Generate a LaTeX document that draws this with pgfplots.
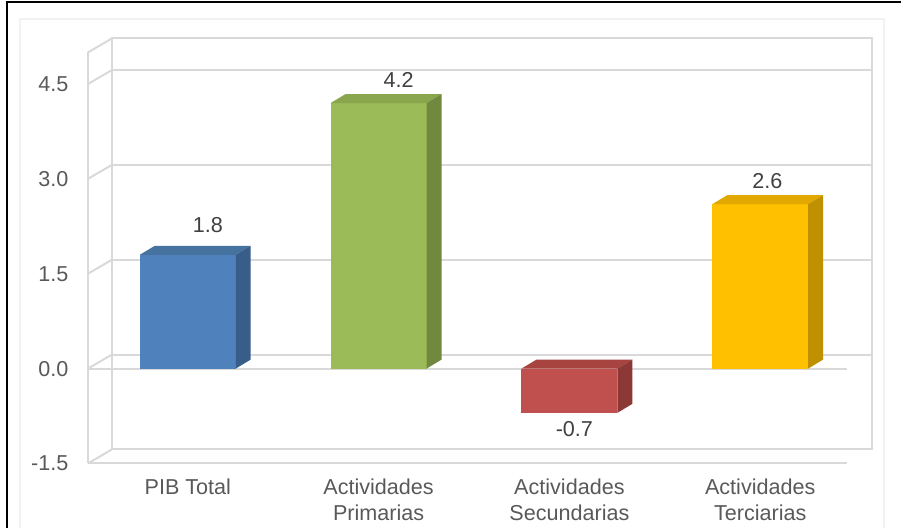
\documentclass[border=0pt]{standalone}
\usepackage{pgfplots}
\pgfplotsset{compat=1.18}
\usepackage{fontspec}
\setmainfont{Liberation Sans}
\definecolor{gridc}{HTML}{D9D9D9}
\definecolor{txt}{HTML}{595959}
\definecolor{val}{HTML}{404040}
\definecolor{bF}{HTML}{4F81BD}\definecolor{bT}{HTML}{46729F}\definecolor{bS}{HTML}{385D8A}
\definecolor{gF}{HTML}{9BBB59}\definecolor{gT}{HTML}{89A64D}\definecolor{gS}{HTML}{71893F}
\definecolor{rF}{HTML}{C0504D}\definecolor{rT}{HTML}{A84440}\definecolor{rS}{HTML}{8C3836}
\definecolor{yF}{HTML}{FFC000}\definecolor{yT}{HTML}{E0A800}\definecolor{yS}{HTML}{BF9000}
\begin{document}
\fontsize{10.8pt}{13pt}\selectfont
\begin{tikzpicture}
\begin{axis}[
  x=95.5pt, y=31.65pt,
  xmin=-0.5236, xmax=3.455, ymin=-1.5, ymax=5.0,
  clip=false,
  axis line style={draw=none},
  major tick length=0pt,
  xtick={0,1,2,3},
  xticklabels={PIB Total, Actividades\\Primarias, Actividades\\Secundarias, Actividades\\Terciarias},
  xticklabel style={align=center, font=\fontsize{10.8pt}{13pt}\selectfont, text=txt, yshift=-4pt},
  ytick={-1.5,0,1.5,3,4.5},
  yticklabels={-1.5,0.0,1.5,3.0,4.5},
  yticklabel style={font=\fontsize{10.8pt}{13pt}\selectfont, text=txt, xshift=-6pt},
]
% picture bounds and frames
\path (axis cs:-0.9843,5.829) rectangle (axis cs:3.738,-2.528);
\draw[black, line width=1pt] (axis cs:-0.9476,-2.528) -- (axis cs:-0.9476,5.798) -- (axis cs:3.738,5.798);
\draw[black!5, line width=0.6pt] (axis cs:-0.8796,-2.528) -- (axis cs:-0.8796,5.529) -- (axis cs:3.649,5.529) -- (axis cs:3.649,-2.528);
% walls
\draw[gridc, line width=1pt] (axis cs:-0.3979,-1.279) -- (axis cs:-0.3979,5.221) -- (axis cs:3.586,5.221) -- (axis cs:3.586,-1.279) -- cycle;
\draw[gridc, line width=1pt] (axis cs:-0.5236,-1.5) -- (axis cs:-0.5236,5.0);
\draw[gridc, line width=1pt] (axis cs:-0.5236,-1.5) -- (axis cs:-0.3979,-1.279);
\draw[gridc, line width=1pt] (axis cs:-0.5236,0) -- (axis cs:-0.3979,0.221);
\draw[gridc, line width=1pt] (axis cs:-0.5236,1.5) -- (axis cs:-0.3979,1.721);
\draw[gridc, line width=1pt] (axis cs:-0.5236,3) -- (axis cs:-0.3979,3.221);
\draw[gridc, line width=1pt] (axis cs:-0.5236,4.5) -- (axis cs:-0.3979,4.721);
\draw[gridc, line width=1pt] (axis cs:-0.5236,5.0) -- (axis cs:-0.3979,5.221);
\draw[gridc, line width=1pt] (axis cs:-0.3979,0.221) -- (axis cs:3.586,0.221);
\draw[gridc, line width=1pt] (axis cs:-0.3979,1.721) -- (axis cs:3.586,1.721);
\draw[gridc, line width=1pt] (axis cs:-0.3979,3.221) -- (axis cs:3.586,3.221);
\draw[gridc, line width=1pt] (axis cs:-0.3979,4.721) -- (axis cs:3.586,4.721);
\draw[gridc, line width=1pt] (axis cs:-0.5236,-1.5) -- (axis cs:3.455,-1.5);
\draw[gridc, line width=1pt] (axis cs:-0.5236,0) -- (axis cs:3.455,0);
% PIB Total 1.8
\addplot[fill=bF, draw=none] coordinates {(-0.2513,0) (0.2513,0) (0.2513,1.8) (-0.2513,1.8)} -- cycle;
\addplot[fill=bT, draw=none] coordinates {(-0.2513,1.8) (0.2513,1.8) (0.3298,1.942) (-0.1728,1.942)} -- cycle;
\addplot[fill=bS, draw=none] coordinates {(0.2513,0) (0.3298,0.142) (0.3298,1.942) (0.2513,1.8)} -- cycle;
% Primarias 4.2
\addplot[fill=gF, draw=none] coordinates {(0.7487,0) (1.2513,0) (1.2513,4.2) (0.7487,4.2)} -- cycle;
\addplot[fill=gT, draw=none] coordinates {(0.7487,4.2) (1.2513,4.2) (1.3298,4.342) (0.8272,4.342)} -- cycle;
\addplot[fill=gS, draw=none] coordinates {(1.2513,0) (1.3298,0.142) (1.3298,4.342) (1.2513,4.2)} -- cycle;
% Secundarias -0.7
\addplot[fill=rF, draw=none] coordinates {(1.7487,-0.7) (2.2513,-0.7) (2.2513,0) (1.7487,0)} -- cycle;
\addplot[fill=rT, draw=none] coordinates {(1.7487,0) (2.2513,0) (2.3298,0.142) (1.8272,0.142)} -- cycle;
\addplot[fill=rS, draw=none] coordinates {(2.2513,-0.7) (2.3298,-0.558) (2.3298,0.142) (2.2513,0)} -- cycle;
% Terciarias 2.6
\addplot[fill=yF, draw=none] coordinates {(2.7487,0) (3.2513,0) (3.2513,2.6) (2.7487,2.6)} -- cycle;
\addplot[fill=yT, draw=none] coordinates {(2.7487,2.6) (3.2513,2.6) (3.3298,2.742) (2.8272,2.742)} -- cycle;
\addplot[fill=yS, draw=none] coordinates {(3.2513,0) (3.3298,0.142) (3.3298,2.742) (3.2513,2.6)} -- cycle;
% value labels
\node[text=val] at (axis cs:0.105,2.27) {1.8};
\node[text=val] at (axis cs:1.105,4.57) {4.2};
\node[text=val] at (axis cs:2.026,-0.96) {-0.7};
\node[text=val] at (axis cs:3.037,2.97) {2.6};
\end{axis}
\end{tikzpicture}
\end{document}
